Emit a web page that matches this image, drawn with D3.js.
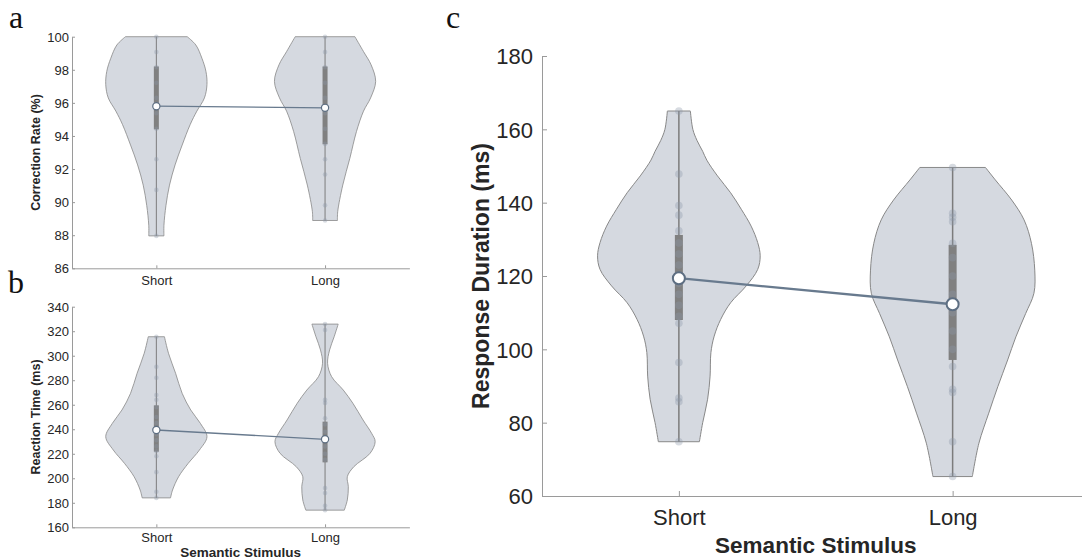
<!DOCTYPE html>
<html>
<head>
<meta charset="utf-8">
<script src="https://cdn.jsdelivr.net/npm/d3@7"></script>
<style>
  html, body { margin: 0; padding: 0; background: #ffffff; }
  svg { display: block; font-family: "Liberation Sans", Arial, Helvetica, sans-serif; }
</style>
</head>
<body>
<svg id="fig" width="1082" height="559"></svg>
<script>
// ---- Data ---------------------------------------------------------------
const categories = ["Short", "Long"];
const xTitle = "Semantic Stimulus";

// (a) correction rate, %
const accTicks = [86, 88, 90, 92, 94, 96, 98, 100];
const accShortPoints = [100, 99.07, 98.15, 97.22, 96.3, 95.37, 94.44, 92.59, 90.74, 87.96];
const accLongPoints = [100, 99.07, 98.15, 97.22, 96.3, 95.37, 94.44, 93.52, 92.59, 91.67, 89.81, 88.89];
const accMedians = [95.8, 95.7];
const accQ1 = [94.4, 93.5];
const accQ3 = [98.2, 98.2];
// density profiles: [value, relative density]
const accShortDensity = [[100, 0.61], [99.5, 0.78], [98.7, 0.90], [97.9, 0.98], [97.1, 1.0], [96.3, 0.95],
  [95.5, 0.80], [94.7, 0.67], [93.45, 0.51], [92.25, 0.37], [91.03, 0.26], [89.8, 0.19], [88.6, 0.15], [87.96, 0.15]];
const accLongDensity = [[100, 0.59], [99.1, 0.76], [98.3, 0.91], [97.3, 1.0], [96.3, 0.90], [95.5, 0.76],
  [94.26, 0.62], [92.65, 0.49], [91.03, 0.35], [89.42, 0.25], [88.89, 0.245]];

// (b) reaction time, ms
const rtTicks = [160, 180, 200, 220, 240, 260, 280, 300, 320, 340];
const rtShortPoints = [315.5, 291, 282, 268, 264, 258, 250, 245, 240, 236, 231, 226, 222, 218, 205, 189, 184];
const rtLongPoints = [325.8, 321, 264, 261.5, 249, 244, 238, 232, 226, 220, 215, 192, 188, 177.5, 174];
const rtMedians = [239.4, 231.8];
const rtQ1 = [221.7, 213];
const rtQ3 = [259.5, 246.2];
const rtShortDensity = [[315.5, 0.16], [302, 0.24], [285.7, 0.38], [269.3, 0.51], [255.7, 0.68], [244.8, 0.87],
  [233.9, 1.0], [223, 0.85], [212.2, 0.63], [201.3, 0.44], [190.4, 0.32], [184, 0.28]];
const rtLongDensity = [[325.8, 0.26], [315.5, 0.18], [304.7, 0.09], [293.8, 0.05], [282.9, 0.13], [272, 0.36],
  [261.2, 0.55], [247.6, 0.75], [236.7, 0.92], [229.9, 0.99], [220.4, 0.89], [209.5, 0.57], [201.3, 0.44],
  [193.1, 0.46], [182.3, 0.44], [174, 0.38]];

// (c) response duration, ms
const durTicks = [60, 80, 100, 120, 140, 160, 180];
const durShortPoints = [165, 147.8, 139.2, 136.6, 132.3, 129, 126, 123, 120, 118, 115, 112, 109, 107.1, 96.4, 86.7, 85.7, 74.8];
const durLongPoints = [149.6, 137.1, 136, 134.8, 128.9, 125, 120, 115, 110, 105, 100, 95.3, 89.1, 88.2, 74.8, 65.3];
const durMedians = [119.4, 112.3];
const durQ1 = [108, 97.1];
const durQ3 = [131.2, 128.5];
const durShortDensity = [[165, 0.14], [160, 0.17], [157, 0.22], [154, 0.29], [151.6, 0.34], [147.3, 0.47],
  [142.7, 0.63], [138.2, 0.76], [133.6, 0.88], [129.1, 0.96], [125.5, 0.99], [121.8, 0.96], [117.3, 0.82],
  [112.7, 0.63], [108.2, 0.51], [103.6, 0.43], [99.1, 0.39], [92.7, 0.38], [86.4, 0.35], [80, 0.29], [74.8, 0.25]];
const durLongDensity = [[149.6, 0.40], [146.2, 0.52], [140.7, 0.72], [135.3, 0.87], [128.9, 0.96], [121.6, 1.0],
  [115.3, 0.99], [109.8, 0.89], [103.4, 0.77], [97.1, 0.67], [89.8, 0.55], [82.6, 0.44], [74.4, 0.32], [65.3, 0.24]];

// ---- Drawing ------------------------------------------------------------
const svg = d3.select("#fig");
const AXIS = "#9a9a9a", TEXT = "#262626";
const VIOLIN_FILL = "#d5d9e0", VIOLIN_STROKE = "#888888";
const BOX = "#808080", LINK = "#687a8e", DOT = "rgb(140,152,170)";

function drawPanel(p) {
  const g = svg.append("g");
  const x = d3.scaleLinear().domain([0.5, 2.5]).range([p.left, p.right]);
  const y = d3.scaleLinear().domain(p.yDomain).range([p.bottom, p.top]);
  const step = x(2) - x(1);
  const w = d3.scaleLinear().domain([0, 1]).range([0, 0.3 * step]);

  // y axis
  const ya = g.append("g").attr("transform", `translate(${p.left},0)`)
    .call(d3.axisLeft(y).tickValues(p.yTicks).tickSizeInner(-p.tickLen).tickSizeOuter(0).tickPadding(p.yPad));
  ya.select(".domain").attr("stroke", AXIS);
  ya.selectAll(".tick line").attr("stroke", AXIS);
  ya.selectAll(".tick text").attr("fill", TEXT).attr("font-size", p.tickFont)
    .attr("font-family", "inherit").attr("dy", "0.35em");

  // x axis
  const xa = g.append("g").attr("transform", `translate(0,${p.bottom})`)
    .call(d3.axisBottom(x).tickValues([1, 2]).tickFormat(i => categories[i - 1])
      .tickSizeInner(-p.tickLen).tickSizeOuter(0));
  xa.select(".domain").attr("stroke", AXIS);
  xa.selectAll(".tick line").attr("stroke", AXIS);
  xa.selectAll(".tick text").attr("fill", TEXT).attr("font-size", p.tickFont)
    .attr("font-family", "inherit").attr("y", p.xLabelDy).attr("dy", 0);

  // y label
  g.append("text")
    .attr("transform", `translate(${p.yLabelX},${(p.top + p.bottom) / 2}) rotate(-90)`)
    .attr("text-anchor", "middle").attr("font-weight", "bold")
    .attr("font-size", p.labelFont).attr("fill", TEXT).text(p.yLabel);

  if (p.showXTitle) {
    g.append("text")
      .attr("x", (x(1) + x(2)) / 2).attr("y", p.xTitleY)
      .attr("text-anchor", "middle").attr("font-weight", "bold")
      .attr("font-size", p.xTitleFont).attr("fill", TEXT).text(xTitle);
  }

  const series = [
    { density: p.density[0], points: p.points[0], med: p.medians[0], q1: p.q1[0], q3: p.q3[0], cx: x(1) },
    { density: p.density[1], points: p.points[1], med: p.medians[1], q1: p.q1[1], q3: p.q3[1], cx: x(2) }
  ];

  series.forEach(s => {
    const area = d3.area()
      .curve(d3.curveCatmullRom)
      .y(d => y(d[0]))
      .x0(d => s.cx - w(d[1]))
      .x1(d => s.cx + w(d[1]));
    g.append("path").attr("d", area(s.density) + "Z")
      .attr("fill", VIOLIN_FILL).attr("stroke", VIOLIN_STROKE).attr("stroke-width", p.violinStroke);

    // full-range whisker
    const ext = d3.extent(s.points);
    g.append("line").attr("x1", s.cx).attr("x2", s.cx)
      .attr("y1", y(ext[0])).attr("y2", y(ext[1]))
      .attr("stroke", "#7c7c7c").attr("stroke-width", p.whiskerW);

    // interquartile box
    g.append("rect").attr("x", s.cx - p.boxW / 2).attr("width", p.boxW)
      .attr("y", y(s.q3)).attr("height", y(s.q1) - y(s.q3))
      .attr("fill", BOX);

    // individual observations
    g.selectAll(null).data(s.points).join("circle")
      .attr("cx", s.cx).attr("cy", d => y(d)).attr("r", p.dotR)
      .attr("fill", DOT).attr("fill-opacity", 0.35);
  });

  // line joining the medians
  g.append("path")
    .attr("d", d3.line().x(s => s.cx).y(s => y(s.med))(series))
    .attr("fill", "none").attr("stroke", LINK).attr("stroke-width", p.linkW);

  g.selectAll(null).data(series).join("circle")
    .attr("cx", s => s.cx).attr("cy", s => y(s.med)).attr("r", p.medR)
    .attr("fill", "#ffffff").attr("stroke", "#5d6e82").attr("stroke-width", p.medStroke);
}

drawPanel({
  left: 72, right: 409.4, top: 36.7, bottom: 268.3, yDomain: [86, 100], yTicks: accTicks,
  tickLen: 3, yPad: 3, tickFont: 13, xLabelDy: 17, yLabel: "Correction Rate (%)", yLabelX: 40,
  labelFont: 12.5, showXTitle: false,
  density: [accShortDensity, accLongDensity], points: [accShortPoints, accLongPoints],
  medians: accMedians, q1: accQ1, q3: accQ3,
  violinStroke: 0.8, whiskerW: 1, boxW: 5, dotR: 2.3, linkW: 1.3, medR: 3.6, medStroke: 1.2
});

drawPanel({
  left: 72, right: 409.4, top: 306.7, bottom: 527.3, yDomain: [160, 340], yTicks: rtTicks,
  tickLen: 3, yPad: 3, tickFont: 13, xLabelDy: 14.5, yLabel: "Reaction Time (ms)", yLabelX: 40,
  labelFont: 12.5, showXTitle: true, xTitleY: 556.5, xTitleFont: 13.5,
  density: [rtShortDensity, rtLongDensity], points: [rtShortPoints, rtLongPoints],
  medians: rtMedians, q1: rtQ1, q3: rtQ3,
  violinStroke: 0.8, whiskerW: 1, boxW: 5, dotR: 2.3, linkW: 1.3, medR: 3.6, medStroke: 1.2
});

drawPanel({
  left: 542, right: 1089.5, top: 56, bottom: 496, yDomain: [60, 180], yTicks: durTicks,
  tickLen: 5, yPad: 9, tickFont: 22, xLabelDy: 29, yLabel: "Response Duration (ms)", yLabelX: 489,
  labelFont: 23, showXTitle: true, xTitleY: 553, xTitleFont: 22.5,
  density: [durShortDensity, durLongDensity], points: [durShortPoints, durLongPoints],
  medians: durMedians, q1: durQ1, q3: durQ3,
  violinStroke: 1, whiskerW: 1.5, boxW: 8, dotR: 3.8, linkW: 2.3, medR: 6, medStroke: 2
});

// panel letters
const letters = [["a", 9, 28], ["b", 8, 293], ["c", 446, 28]];
svg.selectAll(null).data(letters).join("text")
  .attr("x", d => d[1]).attr("y", d => d[2])
  .attr("font-family", "'Liberation Serif', 'Times New Roman', serif")
  .attr("font-size", 32).attr("fill", "#111").text(d => d[0]);
</script>
</body>
</html>
